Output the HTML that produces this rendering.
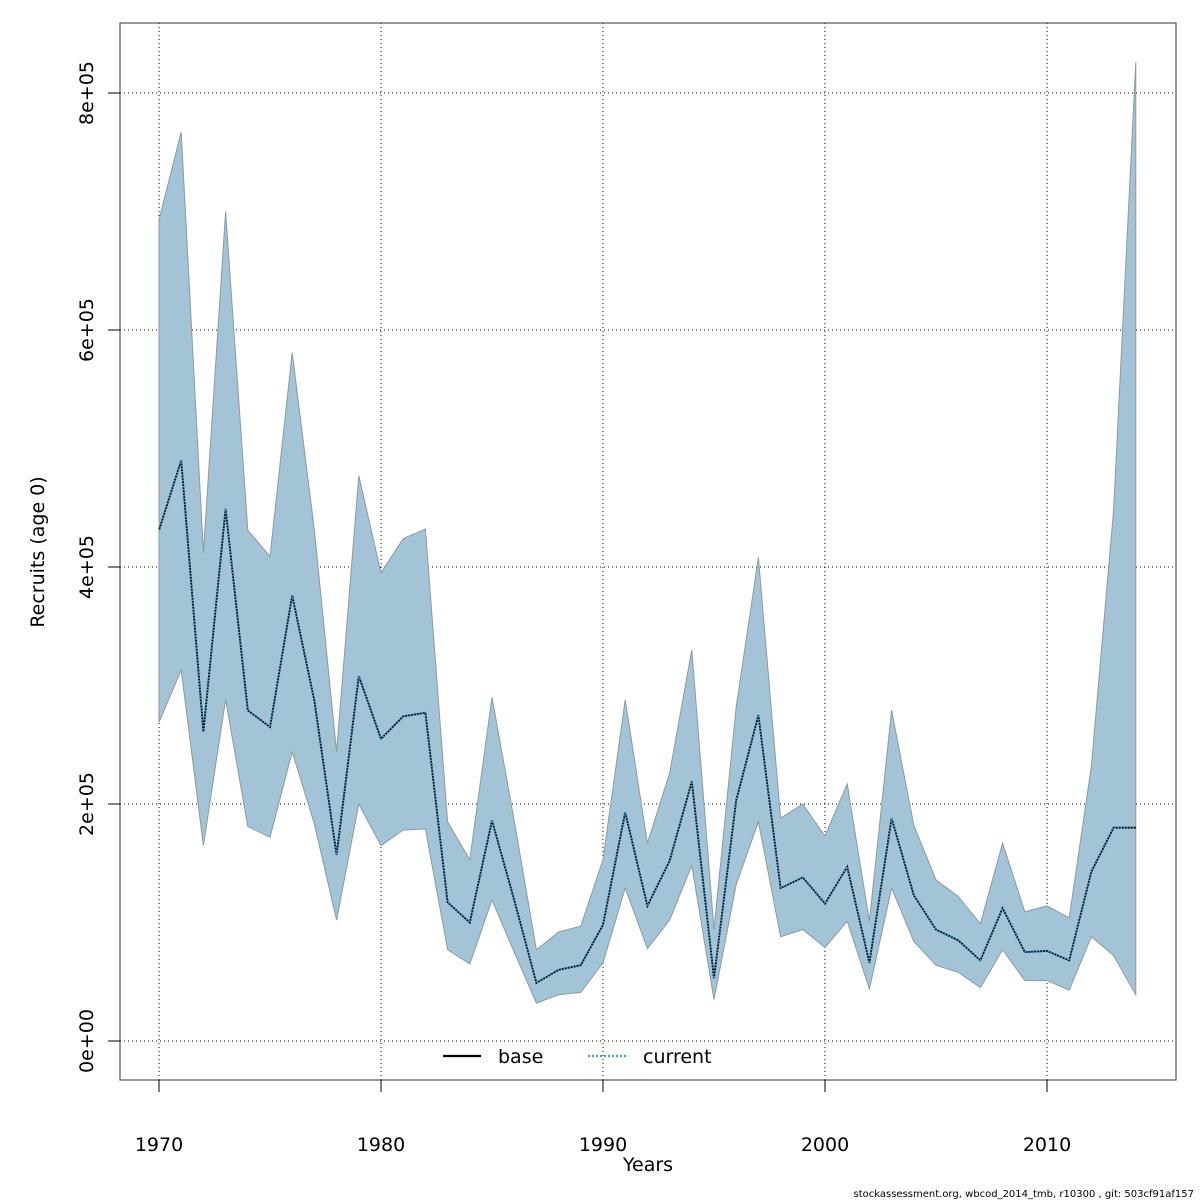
<!DOCTYPE html>
<html><head><meta charset="utf-8"><style>
html,body{margin:0;padding:0;background:#fff;}
svg{display:block;font-family:"DejaVu Sans","Liberation Sans",sans-serif;}
</style></head><body>
<svg id="chart" width="1200" height="1200" viewBox="0 0 1200 1200">
<g id="grid"></g>
<g id="band"></g>
<g id="lines"></g>
<rect x="120" y="23" width="1056" height="1057" fill="none" stroke="#555" stroke-width="1.2"/>
<g id="axes"></g>
<text x="648" y="1171" font-size="19" text-anchor="middle">Years</text>
<text transform="translate(44,552) rotate(-90)" font-size="19" text-anchor="middle">Recruits (age 0)</text>
<text x="1194" y="1197" font-size="10" text-anchor="end">stockassessment.org, wbcod_2014_tmb, r10300 , git: 503cf91af157</text>
<g>
<line x1="443" y1="1056" x2="481" y2="1056" stroke="#000" stroke-width="2.2"/>
<text x="498" y="1063" font-size="19">base</text>
<line x1="588" y1="1056" x2="626" y2="1056" stroke="#3fa0d0" stroke-width="2.2" stroke-dasharray="2,2"/>
<text x="643" y="1063" font-size="19">current</text>
</g>
</svg>
<script>
const years=[];for(let y=1970;y<=2014;y++)years.push(y);
const mid=[431,490,261,449,279,265,376,287,157,308,255,274,277,117,100,186,119,49,60,64,98,193,114,152,219,53,203,275,129,138,116,147,66,188,123,94,85,68,112,75,76,68,143,180,180];
const upper=[693,767,412,700,431,409,581,431,244,477,395,424,432,185,153,290,186,77,92,97,153,288,167,226,330,94,282,408,188,200,173,217,101,279,182,136,122,99,167,109,114,104,232,448,826];
const lower=[269,313,165,288,181,172,244,183,102,200,165,178,179,77,65,119,75,32,39,41,66,129,78,102,148,35,132,185,88,94,79,101,44,129,84,64,58,45,77,51,51,43,88,72,39];
const xTicks=[1970,1980,1990,2000,2010];
const yTicks=[0,200,400,600,800];
const yTickLabels=["0e+00","2e+05","4e+05","6e+05","8e+05"];
const NS="http://www.w3.org/2000/svg";
const X=y=>159+(y-1970)*22.2;
const Y=v=>1041-v*1.185;
function mk(tag,attrs,parent){const e=document.createElementNS(NS,tag);for(const k in attrs)e.setAttribute(k,attrs[k]);parent.appendChild(e);return e;}
const grid=document.getElementById('grid'),axes=document.getElementById('axes'),band=document.getElementById('band'),lines=document.getElementById('lines');
xTicks.forEach(t=>{
 const g=mk('line',{x1:X(t),x2:X(t),y1:23,y2:1080,stroke:'#000','stroke-width':1,'stroke-dasharray':'1,3'},grid);
 
 
 const tk=mk('line',{x1:X(t),x2:X(t),y1:1080,y2:1092,stroke:'#000'},axes);
 
 
 const tx=mk('text',{x:X(t),y:1151,'font-size':19,'text-anchor':'middle'},axes);tx.textContent=t;
 
 
});
yTicks.forEach((t,i)=>{
 const g=mk('line',{x1:120,x2:1176,y1:Y(t),y2:Y(t),stroke:'#000','stroke-width':1,'stroke-dasharray':'1,3'},grid);
 
 
 const tk=mk('line',{x1:108,x2:120,y1:Y(t),y2:Y(t),stroke:'#000'},axes);
 
 
 const tx=mk('text',{transform:`translate(93,${Y(t)}) rotate(-90)`,'font-size':19,'text-anchor':'middle'},axes);tx.textContent=yTickLabels[i];
 
 
});
let pts=years.map((y,i)=>X(y)+','+Y(upper[i]));
for(let i=years.length-1;i>=0;i--)pts.push(X(years[i])+','+Y(lower[i]));
const poly=mk('polygon',{points:pts.join(' '),fill:'#a3c4d6',stroke:'#8a9aa4','stroke-width':1},band);


const lp=years.map((y,i)=>X(y)+','+Y(mid[i])).join(' ');
const b=mk('polyline',{points:lp,fill:'none',stroke:'#000','stroke-width':1.8},lines);


const c=mk('polyline',{points:lp,fill:'none',stroke:'#3fa0d0','stroke-width':1.8,'stroke-dasharray':'1.5,1.5'},lines);


</script>
</body></html>
